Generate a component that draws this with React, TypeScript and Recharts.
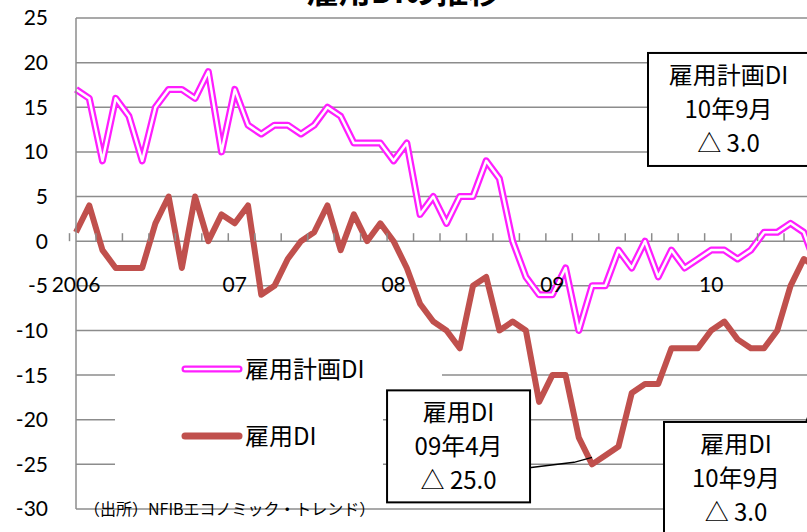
import React from 'react';
import { LineChart, Line, XAxis, YAxis, CartesianGrid, Legend, ReferenceDot } from 'recharts';

// 雇用DI / 雇用計画DI, monthly, Jan 2006 - Sep 2010
const START_YEAR = 2006;
const MONTH_COUNT = 57;
const yearLabels = ['2006', '07', '08', '09', '10'];

const employmentDI = [
  1, 4, -1, -3, -3, -3, 2, 5, -3, 5, 0, 3,
  2, 4, -6, -5, -2, 0, 1, 4, -1, 3, 0, 2,
  0, -3, -7, -9, -10, -12, -5, -4, -10, -9, -10, -18,
  -15, -15, -22, -25, -24, -23, -17, -16, -16, -12, -12, -12,
  -10, -9, -11, -12, -12, -10, -5, -2, -3,
];

const hiringPlanDI = [
  17, 16, 9, 16, 14, 9, 15, 17, 17, 16, 19, 10,
  17, 13, 12, 13, 13, 12, 13, 15, 14, 11, 11, 11,
  9, 11, 3, 5, 2, 5, 5, 9, 7, 0, -4, -6,
  -6, -3, -10, -5, -5, -1, -3, 0, -4, -1, -3, -2,
  -1, -1, -2, -1, 1, 1, 2, 1, -3,
];

const yTicks = [-30, -25, -20, -15, -10, -5, 0, 5, 10, 15, 20, 25];

const months: string[] = [];
for (let i = 0; i < MONTH_COUNT; i++) {
  const y = START_YEAR + Math.floor(i / 12);
  const m = (i % 12) + 1;
  months.push(`${y}-${String(m).padStart(2, '0')}`);
}

const data = months.map((month, i) => ({
  month,
  employment: employmentDI[i],
  plan: hiringPlanDI[i],
}));

// callouts
const lowPoint = { month: '2009-04', value: -25, lines: ['雇用DI', '09年4月', '△ 25.0'] };
const lastEmployment = { month: '2010-09', value: -3, lines: ['雇用DI', '10年9月', '△ 3.0'] };
const lastPlan = { month: '2010-09', value: -3, lines: ['雇用計画DI', '10年9月', '△ 3.0'] };

const JP_FONT = '"Noto Sans CJK JP", "Noto Sans", sans-serif';
const NUM_FONT = 'Lato, "Noto Sans", sans-serif';
const GRID = '#8c8c8c';
const MAGENTA = '#ff1eff';
const RED = '#c0504d';

const CHART_W = 830;
const CHART_H = 532;
const PLOT_LEFT = 76;
const PLOT_RIGHT = 817;
const PLOT_TOP = 18;
const PLOT_BOTTOM = 509;
const Y_MIN = -30;
const Y_MAX = 25;
const ZERO_Y = PLOT_TOP + ((Y_MAX - 0) / (Y_MAX - Y_MIN)) * (PLOT_BOTTOM - PLOT_TOP);
const HALF_BAND = (PLOT_RIGHT - PLOT_LEFT) / MONTH_COUNT / 2;

const MonthTick = (props: any) => {
  const { x, payload } = props;
  const index: number = payload.index;
  return (
    <g>
      {index % 2 === 0 && (
        <line x1={x - HALF_BAND} x2={x - HALF_BAND} y1={ZERO_Y - 8} y2={ZERO_Y} stroke={GRID} strokeWidth={1.5} />
      )}
      {index % 12 === 0 && (
        <text x={x} y={ZERO_Y + 51} textAnchor="middle" fontFamily={NUM_FONT} fontSize={21} fill="#000">
          {yearLabels[index / 12]}
        </text>
      )}
    </g>
  );
};

type CalloutOpts = {
  lines: string[];
  dx: number;
  dy: number;
  width: number;
  height: number;
  leader: (cx: number, cy: number, box: { x: number; y: number; w: number; h: number }) => string;
};

const makeCallout = (opts: CalloutOpts) => (props: any) => {
  const { cx, cy } = props;
  if (cx == null || cy == null) return <g />;
  const bx = cx + opts.dx;
  const by = cy + opts.dy;
  return (
    <g>
      <polyline points={opts.leader(cx, cy, { x: bx, y: by, w: opts.width, h: opts.height })} fill="none" stroke="#000" strokeWidth={1.5} />
      <rect x={bx} y={by} width={opts.width} height={opts.height} fill="#fff" stroke="#000" strokeWidth={2} />
      {opts.lines.map((t, k) => (
        <text
          key={k}
          x={bx + opts.width / 2}
          y={by + 31 + k * 34}
          textAnchor="middle"
          fontFamily={JP_FONT}
          fontSize={24}
          fill="#000"
        >
          {t}
        </text>
      ))}
    </g>
  );
};

// white backing: wide strip on top, narrower below so the low-point callout stays visible
const LegendBox = () => (
  <div style={{ position: 'relative', width: 327, height: 125 }}>
    <div style={{ position: 'absolute', left: 0, top: 0, width: 327, height: 40, background: '#fff' }} />
    <div style={{ position: 'absolute', left: 0, top: 0, width: 268, height: 125, background: '#fff' }} />
    <svg width={327} height={125} style={{ position: 'absolute', left: 0, top: 0 }}>
      <line x1={70} x2={124} y1={24} y2={24} stroke={MAGENTA} strokeWidth={7} strokeLinecap="round" />
      <line x1={70} x2={124} y1={24} y2={24} stroke="#fff" strokeWidth={2.5} strokeLinecap="round" />
      <text x={130} y={33} fontFamily={JP_FONT} fontSize={24} fill="#000">雇用計画DI</text>
      <line x1={70} x2={124} y1={91} y2={91} stroke={RED} strokeWidth={7} strokeLinecap="round" />
      <text x={130} y={100} fontFamily={JP_FONT} fontSize={24} fill="#000">雇用DI</text>
    </svg>
  </div>
);

export default function App() {
  return (
    <div
      style={{
        position: 'fixed',
        left: 0,
        top: 0,
        width: 807,
        height: 532,
        overflow: 'hidden',
        background: '#fff',
      }}
    >
      <LineChart
        width={CHART_W}
        height={CHART_H}
        data={data}
        margin={{ top: PLOT_TOP, right: CHART_W - PLOT_RIGHT, bottom: 0, left: 0 }}
      >
        <CartesianGrid vertical={false} stroke={GRID} strokeWidth={1.5} />
        <XAxis
          dataKey="month"
          height={CHART_H - PLOT_BOTTOM}
          axisLine={false}
          tickLine={false}
          interval={0}
          tick={<MonthTick />}
        />
        <YAxis
          width={PLOT_LEFT}
          domain={[Y_MIN, Y_MAX]}
          ticks={yTicks}
          interval={0}
          axisLine={{ stroke: GRID, strokeWidth: 1.5 }}
          tickLine={false}
          tickMargin={22}
          tick={{ fontFamily: NUM_FONT, fontSize: 21, fill: '#000' }}
        />
        <Legend
          layout="vertical"
          align="center"
          verticalAlign="middle"
          content={() => <LegendBox />}
          wrapperStyle={{ left: 115, top: 345, width: 327, height: 125 }}
        />
        <Line
          type="linear"
          dataKey="employment"
          name="雇用DI"
          stroke={RED}
          strokeWidth={6}
          strokeLinejoin="round"
          dot={false}
          activeDot={false}
          isAnimationActive={false}
        />
        <Line
          type="linear"
          dataKey="plan"
          name="雇用計画DI"
          stroke={MAGENTA}
          strokeWidth={7}
          strokeLinejoin="round"
          dot={false}
          activeDot={false}
          isAnimationActive={false}
        />
        <Line
          type="linear"
          dataKey="plan"
          name="雇用計画DI_inner"
          stroke="#fff"
          strokeWidth={2.5}
          strokeLinejoin="round"
          dot={false}
          activeDot={false}
          legendType="none"
          isAnimationActive={false}
        />
        <ReferenceDot
          x={lowPoint.month}
          y={lowPoint.value}
          r={0}
          shape={makeCallout({
            lines: lowPoint.lines,
            dx: -205,
            dy: -74,
            width: 143,
            height: 112,
            leader: (cx, cy, b) => `${b.x + b.w - 5},${cy + 4} ${cx - 18},${cy - 2} ${cx},${cy - 7}`,
          })}
        />
        <ReferenceDot
          x={lastEmployment.month}
          y={lastEmployment.value}
          r={0}
          shape={makeCallout({
            lines: lastEmployment.lines,
            dx: -153,
            dy: 154,
            width: 144,
            height: 112,
            leader: (cx, cy, b) => `${b.x + b.w - 2},${b.y} ${cx + 45},${cy}`,
          })}
        />
        <ReferenceDot
          x={lastPlan.month}
          y={lastPlan.value}
          r={0}
          shape={makeCallout({
            lines: lastPlan.lines,
            dx: -169,
            dy: -215,
            width: 161,
            height: 113,
            leader: (cx, cy, b) => `${b.x + b.w},${b.y + b.h - 7} ${cx},${cy}`,
          })}
        />
      </LineChart>
      <div
        style={{
          position: 'absolute',
          left: 0,
          width: 807,
          top: -27,
          textAlign: 'center',
          fontFamily: JP_FONT,
          fontWeight: 'bold',
          fontSize: 32,
          lineHeight: '32px',
        }}
      >
        雇用DIの推移
      </div>
      <div
        style={{
          position: 'absolute',
          left: 84,
          top: 497,
          fontFamily: JP_FONT,
          fontSize: 16,
          lineHeight: '22px',
          color: '#000',
          whiteSpace: 'nowrap',
        }}
      >
        （出所）NFIBエコノミック・トレンド）
      </div>
    </div>
  );
}
